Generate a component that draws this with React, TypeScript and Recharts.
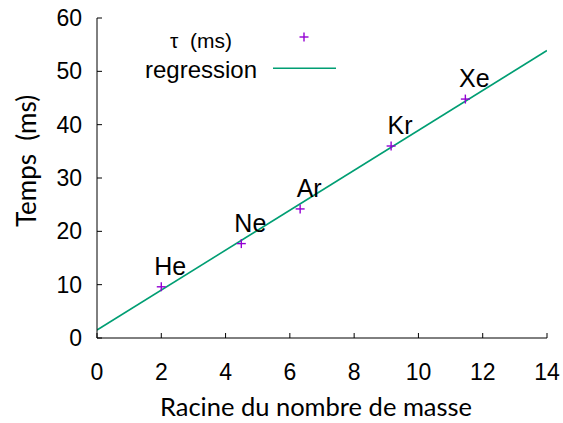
import { ComposedChart, Scatter, Line, XAxis, YAxis } from "recharts";

const elements = ["He", "Ne", "Ar", "Kr", "Xe"];
const rootMass = [2.0, 4.49, 6.32, 9.15, 11.46];
const tau = [9.6, 17.7, 24.2, 36.0, 44.8];

const regX = [0, 14];
const regY = [1.5, 53.9];

const xTicks = [0, 2, 4, 6, 8, 10, 12, 14];
const yTicks = [0, 10, 20, 30, 40, 50, 60];

const points = elements.map((name, i) => ({ name, x: rootMass[i], y: tau[i] }));
const regression = regX.map((x, i) => ({ x, y: regY[i] }));

const PURPLE = "#9400D3";
const GREEN = "#009E73";
const sans = "'Liberation Sans', Arial, sans-serif";
const titleFont = "Lato, 'Open Sans', sans-serif";

const PlusMark = (props: any) => {
  const { cx, cy, payload } = props;
  return (
    <g>
      <line x1={cx - 4.5} x2={cx + 4.5} y1={cy} y2={cy} stroke={PURPLE} strokeWidth={1.4} />
      <line x1={cx} x2={cx} y1={cy - 4.5} y2={cy + 4.5} stroke={PURPLE} strokeWidth={1.4} />
      <text
        x={cx + 9}
        y={cy - 21}
        textAnchor="middle"
        dominantBaseline="central"
        fontFamily={sans}
        fontSize={25}
        fill="#000"
      >
        {payload.name}
      </text>
    </g>
  );
};

const YTitle = (props: any) => {
  const { viewBox } = props;
  const cy = viewBox.y + viewBox.height / 2 - 17;
  return (
    <text
      x={26}
      y={cy}
      transform={`rotate(-90, 26, ${cy})`}
      textAnchor="middle"
      dominantBaseline="central"
      fontFamily={titleFont}
      fontSize={26}
      fill="#000"
      style={{ whiteSpace: "pre" }}
    >
      {"Temps  (ms)"}
    </text>
  );
};

const XTitle = (props: any) => {
  const { viewBox } = props;
  const cx = viewBox.x + viewBox.width / 2 - 6;
  return (
    <text
      x={cx}
      y={406}
      textAnchor="middle"
      dominantBaseline="central"
      fontFamily={titleFont}
      fontSize={25.5}
      fill="#000"
    >
      Racine du nombre de masse
    </text>
  );
};

export default function App() {
  return (
    <div style={{ position: "absolute", left: 0, top: 0, width: 563, height: 423, background: "#fff" }}>
      <ComposedChart width={563} height={423} margin={{ top: 18, right: 16, bottom: 0, left: 0 }}>
        <XAxis
          dataKey="x"
          type="number"
          domain={[0, 14]}
          ticks={xTicks}
          allowDataOverflow
          height={85}
          stroke="#000"
          tickSize={-5}
          tickMargin={31}
          tick={{ fill: "#000", fontSize: 23, fontFamily: sans }}
          label={{ content: <XTitle /> }}
        />
        <XAxis
          xAxisId="top"
          orientation="top"
          type="number"
          domain={[0, 14]}
          ticks={xTicks}
          height={0}
          stroke="#000"
          tickSize={-5}
          tick={false}
        />
        <YAxis
          type="number"
          domain={[0, 60]}
          ticks={yTicks}
          allowDataOverflow
          width={97}
          stroke="#000"
          tickSize={-5}
          tickMargin={20}
          tick={{ fill: "#000", fontSize: 23, fontFamily: sans }}
          label={{ content: <YTitle /> }}
        />
        <YAxis
          yAxisId="right"
          orientation="right"
          type="number"
          domain={[0, 60]}
          ticks={yTicks}
          width={0}
          stroke="#000"
          tickSize={-5}
          tick={false}
        />
        <Line
          data={regression}
          dataKey="y"
          type="linear"
          stroke={GREEN}
          strokeWidth={1.6}
          dot={false}
          activeDot={false}
          isAnimationActive={false}
        />
        <Scatter data={points} dataKey="y" shape={<PlusMark />} isAnimationActive={false} />
      </ComposedChart>
      <svg
        width={200}
        height={70}
        style={{ position: "absolute", left: 140, top: 20 }}
      >
        <text x={61} y={20} textAnchor="middle" dominantBaseline="central" fontFamily={sans} fontSize={21} fill="#000" style={{ whiteSpace: "pre" }}>
          {"τ  (ms)"}
        </text>
        <line x1={159.5} x2={168.5} y1={17} y2={17} stroke={PURPLE} strokeWidth={1.4} />
        <line x1={164} x2={164} y1={12.5} y2={21.5} stroke={PURPLE} strokeWidth={1.4} />
        <text x={61} y={49} textAnchor="middle" dominantBaseline="central" fontFamily={sans} fontSize={24} fill="#000">
          regression
        </text>
        <line x1={133} x2={196} y1={48.3} y2={48.3} stroke={GREEN} strokeWidth={1.6} />
      </svg>
    </div>
  );
}
